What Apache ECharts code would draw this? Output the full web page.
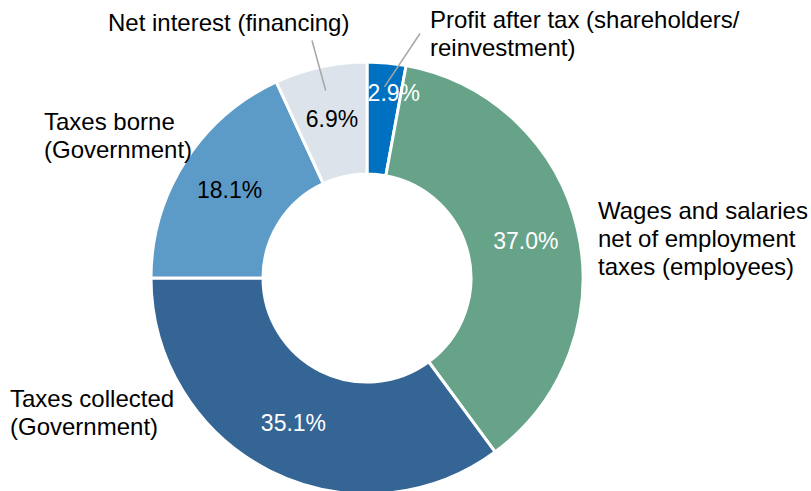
<!DOCTYPE html>
<html lang="en">
<head>
    <meta charset="UTF-8">
    <title>Value distribution</title>
    <style>
        html, body { margin: 0; padding: 0; background: #fff; }
        #chart { width: 811px; height: 491px; }
    </style>
</head>
<body>
<div id="chart"></div>
<script src="https://cdn.jsdelivr.net/npm/echarts@6/dist/echarts.min.js"></script>
<script type="text/javascript">
    // slices, clockwise from 12 o'clock
    var names = [
        'Profit after tax (shareholders/\nreinvestment)',
        'Wages and salaries\nnet of employment\ntaxes (employees)',
        'Taxes collected\n(Government)',
        'Taxes borne\n(Government)',
        'Net interest (financing)'
    ];
    var shares = [2.9, 37.0, 35.1, 18.1, 6.9];
    var colors = ['#0070c0', '#66a388', '#346594', '#5c9bc7', '#dde3ea'];
    var pctColors = ['#fff', '#fff', '#fff', '#000', '#000'];
    var withLine = [true, false, false, false, true];

    // where the name labels sit (left edge, middle of the text block)
    var namePos = [
        [430, 33], [598, 238], [10, 412], [44, 135], [108, 22]
    ];
    // where the leader lines end
    var lineEnd = [[420, 33], null, null, null, [312, 40]];

    var myChart = echarts.init(document.getElementById('chart'), null, {renderer: 'svg'});

    var pctData = [];
    var nameData = [];
    var lineData = [];
    for (var i = 0; i < shares.length; i++) {
        pctData.push({
            value: shares[i],
            name: names[i],
            itemStyle: {color: colors[i]},
            label: {color: pctColors[i]}
        });
        nameData.push({value: shares[i], name: names[i]});
        lineData.push({
            value: shares[i],
            name: names[i],
            label: {show: withLine[i]},
            labelLine: {show: withLine[i]}
        });
    }

    var font = 'Liberation Sans, Arial, sans-serif';

    option = {
        backgroundColor: '#fff',
        animation: false,
        series: [
            {
                name: 'share',
                type: 'pie',
                center: [367, 278],
                radius: [104, 216],
                startAngle: 90,
                itemStyle: {borderColor: '#fff', borderWidth: 3},
                label: {
                    show: true,
                    position: 'inside',
                    fontFamily: font,
                    fontSize: 23,
                    formatter: function (p) { return p.value.toFixed(1) + '%'; }
                },
                labelLayout: function (p) {
                    if (p.dataIndex === 0) return {dx: 12, dy: -23};
                    return {};
                },
                labelLine: {show: false},
                silent: true,
                data: pctData
            },
            {
                // leader lines only
                name: 'lines',
                type: 'pie',
                center: [367, 278],
                radius: [104, 192],
                startAngle: 90,
                itemStyle: {color: 'rgba(0,0,0,0)'},
                label: {
                    position: 'outside',
                    fontSize: 1,
                    formatter: ' '
                },
                labelLine: {
                    length: 5,
                    length2: 0,
                    lineStyle: {color: '#a6a6a6', width: 1.5}
                },
                labelLayout: function (p) {
                    var e = lineEnd[p.dataIndex];
                    if (!e) return {};
                    return {x: e[0], y: e[1], align: 'center', verticalAlign: 'middle'};
                },
                silent: true,
                z: 3,
                data: lineData
            },
            {
                name: 'names',
                type: 'pie',
                center: [367, 278],
                radius: [104, 216],
                startAngle: 90,
                itemStyle: {color: 'rgba(0,0,0,0)'},
                label: {
                    show: true,
                    position: 'outside',
                    fontFamily: font,
                    fontSize: 24,
                    lineHeight: 28,
                    color: '#000',
                    overflow: 'none',
                    width: 400,
                    formatter: '{b}'
                },
                labelLine: {show: false},
                labelLayout: function (p) {
                    var pos = namePos[p.dataIndex];
                    return {x: pos[0], y: pos[1], align: 'left', verticalAlign: 'middle'};
                },
                silent: true,
                z: 4,
                data: nameData
            }
        ]
    };

    myChart.setOption(option);
</script>
</body>
</html>
